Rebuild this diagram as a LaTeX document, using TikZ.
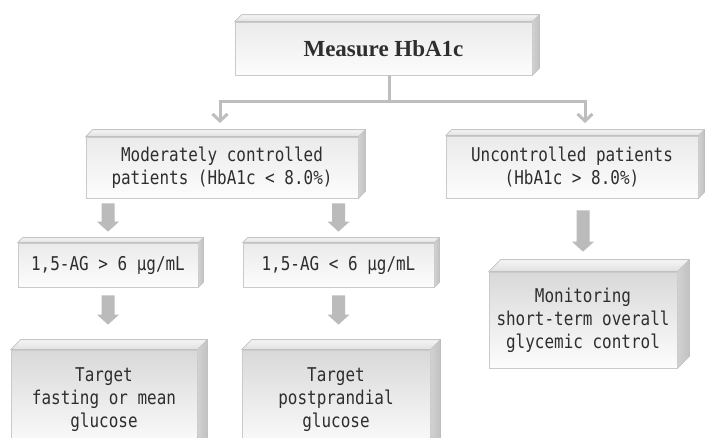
\documentclass[tikz,border=0pt]{standalone}
\usepackage{fontspec}
\setmainfont{Liberation Serif}
\newfontfamily\gul[FakeStretch=0.84]{DejaVu Sans Mono}
\usetikzlibrary{arrows.meta,calc}
\definecolor{connc}{HTML}{BEBEBE}
\definecolor{arrc}{HTML}{BBBBBB}
\definecolor{edgec}{HTML}{CACACA}
\definecolor{txtc}{HTML}{2E2E2E}
\tikzset{
  face/.style={draw=edgec, line width=0.7pt, inner sep=0pt, text=txtc, align=center,
               font=\gul\fontsize{19}{23}\selectfont},
  flatbox/.style={face, top color=white!92!black, bottom color=white!99!black},
  tallbox/.style={face, top color=white!85!black, bottom color=white!99!black},
  topface/.style={draw=edgec, line width=0.7pt, top color=white!96!black, bottom color=white!88!black},
  sideface/.style={draw=edgec, line width=0.7pt, left color=white!82!black, right color=white!76!black},
  conn/.style={draw=connc, line width=3pt},
  connarr/.style={conn, -{Straight Barb[length=7pt,width=15pt,line width=3pt]}},
  barrow/.style={fill=arrc, draw=none}
}
\newcommand\blockarr[2]{%
  \fill[barrow] let \p1=(#1), \p2=(#2) in
    (\x1-6.5pt,\y1) -- (\x1-6.5pt,\y2+10pt) -- (\x1-11pt,\y2+10pt) -- (\x1,\y2)
    -- (\x1+11pt,\y2+10pt) -- (\x1+6.5pt,\y2+10pt) -- (\x1+6.5pt,\y1) -- cycle;}
\begin{document}
\begin{tikzpicture}[x=1pt,y=-1pt]
\useasboundingbox (0,0) rectangle (705,437);
\clip (0,0) rectangle (705,437);
\fill[white] (0,0) rectangle (705,437);

% boxes (front faces)
\node[flatbox, minimum width=297pt, minimum height=53pt,
      font=\bfseries\fontsize{23}{27}\selectfont] (top) at (383.5,48.5) {Measure HbA1c};
\node[flatbox, minimum width=272pt, minimum height=61pt] (mod) at (222,167.5)
  {Moderately controlled\\patients (HbA1c < 8.0\%)};
\node[flatbox, minimum width=252pt, minimum height=62pt] (unc) at (572,167)
  {Uncontrolled patients\\(HbA1c > 8.0\%)};
\node[flatbox, minimum width=180pt, minimum height=44pt] (ag1) at (108,265)
  {1,5-AG > 6 µg/mL};
\node[flatbox, minimum width=191pt, minimum height=44pt] (ag2) at (338.5,265)
  {1,5-AG < 6 µg/mL};
\node[tallbox, minimum width=186pt, minimum height=100pt] (t1) at (104,400)
  {Target\\fasting or mean\\glucose};
\node[tallbox, minimum width=188pt, minimum height=100pt] (t2) at (336,400)
  {Target\\postprandial\\glucose};
\node[tallbox, minimum width=188pt, minimum height=96pt] (mon) at (583,320)
  {Monitoring\\short-term overall\\glycemic control};

% 3D faces
\foreach \n/\d in {top/7,mod/7,unc/6,ag1/5,ag2/5,t1/10,t2/10,mon/12}{
  \filldraw[topface] (\n.north west) -- ++(\d,-\d) -- ($(\n.north east)+(\d,-\d)$)
     -- (\n.north east) -- cycle;
  \filldraw[sideface] (\n.north east) -- ++(\d,-\d) -- ($(\n.south east)+(\d,-\d)$)
     -- (\n.south east) -- cycle;
}

% thin connectors
\coordinate (j) at (389,101);
\coordinate (aL) at (220,123);
\coordinate (aR) at (585,123);
\draw[conn] (top.south -| j) -- (j);
\draw[connarr] (j) -| (aL);
\draw[connarr] (j) -| (aR);

% block arrows
\coordinate (b1s) at ($(mod.south -| ag1.north)+(0,5)$);
\coordinate (b1e) at ($(ag1.north)+(0,-11)$);
\blockarr{b1s}{b1e}
\coordinate (b2s) at ($(mod.south -| ag2.north)+(0,5)$);
\coordinate (b2e) at ($(ag2.north)+(0,-11)$);
\blockarr{b2s}{b2e}
\coordinate (b3s) at ($(unc.south -| mon.north)+(0,12)$);
\coordinate (b3e) at ($(mon.north)+(0,-20)$);
\blockarr{b3s}{b3e}
\coordinate (b4s) at ($(ag1.south)+(0,8)$);
\coordinate (b4e) at ($(t1.north)+(0,-25)$);
\blockarr{b4s}{b4e}
\coordinate (b5s) at ($(ag2.south)+(0,8)$);
\coordinate (b5e) at ($(t2.north)+(0,-25)$);
\blockarr{b5s}{b5e}
\end{tikzpicture}
\end{document}
